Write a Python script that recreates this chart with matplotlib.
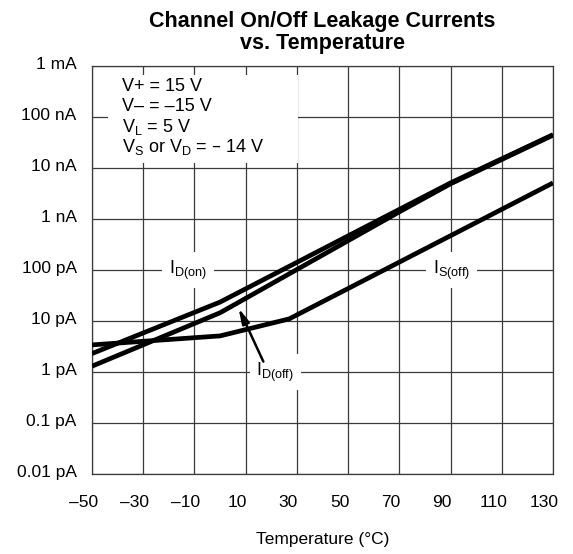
import matplotlib
matplotlib.use("Agg")
import matplotlib.pyplot as plt
import matplotlib.transforms as mtransforms
from matplotlib.patches import Rectangle

plt.rcParams['font.family'] = ['Liberation Sans', 'DejaVu Sans']
plt.rcParams['mathtext.default'] = 'regular'

# curve data (temperature in degC, leakage current in A)
id_on_temp = [-50, 0, 90, 130]
id_on_current = [2.3e-12, 2.35e-11, 5.1e-9, 4.5e-8]

id_off_temp = [-50, 0, 70, 90, 130]
id_off_current = [1.3e-12, 1.45e-11, 1.38e-9, 4.9e-9, 4.4e-8]

is_off_temp = [-50, 0, 27, 130]
is_off_current = [3.4e-12, 5.1e-12, 1.1e-11, 5.1e-9]

x_ticks = [-50, -30, -10, 10, 30, 50, 70, 90, 110, 130]
x_tick_labels = ['–50', '–30', '–10', '10', '30', '50', '70', '90', '110', '130']
y_ticks = [1e-14, 1e-13, 1e-12, 1e-11, 1e-10, 1e-9, 1e-8, 1e-7, 1e-6]
y_tick_labels = ['0.01 pA', '0.1 pA', '1 pA', '10 pA', '100 pA', '1 nA', '10 nA', '100 nA', '1 mA']

conditions = ['V+ = 15 V', 'V– = –15 V', 'V$_L$ = 5 V', 'V$_S$ or V$_D$ = – 14 V']

fig = plt.figure(figsize=(5.73, 5.54), dpi=100)
ax = fig.add_axes([0.1606, 0.1444, 0.8045, 0.7365])

ax.set_yscale('log')
ax.set_xlim(-50, 130)
ax.set_ylim(1e-14, 1e-6)
ax.set_xticks(x_ticks)
ax.set_xticklabels(x_tick_labels)
ax.set_yticks(y_ticks)
ax.set_yticklabels(y_tick_labels)
ax.yaxis.set_minor_locator(matplotlib.ticker.NullLocator())
ax.tick_params(length=0, labelsize=12.5)
ax.tick_params(axis='x', pad=15)
ax.tick_params(axis='y', pad=11)

ax.grid(True, color='#3a3a3a', linewidth=0.9)
ax.set_axisbelow(True)
for s in ax.spines.values():
    s.set_color('#3a3a3a')
    s.set_linewidth(0.9)

# shift labels a bit like the datasheet drawing
dx = mtransforms.ScaledTranslation(-8.5 / 100, 0, fig.dpi_scale_trans)
for lbl in ax.get_xticklabels():
    lbl.set_transform(lbl.get_transform() + dx)
dy = mtransforms.ScaledTranslation(0, 3 / 100, fig.dpi_scale_trans)
for lbl in ax.get_yticklabels():
    lbl.set_transform(lbl.get_transform() + dy)

lw = 3.4
ax.plot(is_off_temp, is_off_current, color='black', lw=lw, solid_capstyle='butt', zorder=3)
ax.plot(id_off_temp, id_off_current, color='black', lw=lw, solid_capstyle='butt', zorder=3)
ax.plot(id_on_temp, id_on_current, color='black', lw=lw, solid_capstyle='butt', zorder=3)

box = dict(facecolor='white', edgecolor='none', pad=5)
ax.text(-12.5, 1e-10, '$I_{D(on)}$', fontsize=13, ha='center', va='center', bbox=box, zorder=4)
ax.text(90.5, 1e-10, '$I_{S(off)}$', fontsize=13, ha='center', va='center', bbox=box, zorder=4)
ax.text(21.6, 1e-12, '$I_{D(off)}$', fontsize=13, ha='center', va='center', bbox=box, zorder=4)
ax.annotate('', xy=(7.2, 1.8e-11), xytext=(16.9, 1.6e-12),
            arrowprops=dict(arrowstyle='-|>,head_length=0.9,head_width=0.22',
                            color='black', lw=1.8, shrinkA=0, shrinkB=0), zorder=4)

# test conditions box
ax.add_patch(Rectangle((0.035, 0.762), 0.412, 0.216, transform=ax.transAxes,
                       facecolor='white', edgecolor='none', zorder=2))
for i, line in enumerate(conditions):
    ax.text(0.065, 0.9485 - i * 0.049, line, transform=ax.transAxes,
            fontsize=13, ha='left', va='center', zorder=4)

ax.set_title('Channel On/Off Leakage Currents\nvs. Temperature',
             fontsize=15.5, fontweight='bold', pad=12.5, linespacing=1.05)
ax.set_xlabel('Temperature (°C)', fontsize=12.5, labelpad=16)

fig.savefig('out.png', dpi=100)
